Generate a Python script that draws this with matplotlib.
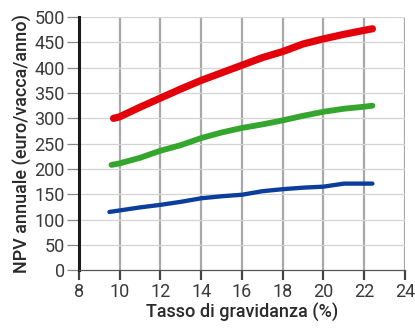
import matplotlib
matplotlib.use("Agg")
import matplotlib.pyplot as plt

plt.rcParams['font.family'] = ['Roboto', 'DejaVu Sans']

# Pregnancy rate (%) and annual NPV (euro/cow/year) for three scenarios
red_x = [9.7, 10.0, 11.0, 12.0, 13.0, 14.0, 15.0, 16.0, 17.0, 18.0, 19.0, 20.0, 21.0, 22.0, 22.4]
red_y = [300, 303, 322, 340, 358, 375, 390, 405, 420, 432, 447, 457, 466, 474, 477]

green_x = [9.6, 10.0, 11.0, 12.0, 13.0, 14.0, 15.0, 16.0, 17.0, 18.0, 19.0, 20.0, 21.0, 22.0, 22.4]
green_y = [208, 211, 222, 236, 247, 261, 272, 281, 288, 296, 305, 313, 319, 323, 325]

blue_x = [9.5, 10.0, 11.0, 12.0, 13.0, 14.0, 15.0, 16.0, 17.0, 18.0, 19.0, 20.0, 21.0, 22.0, 22.4]
blue_y = [115, 118, 124, 129, 135, 142, 146, 149, 156, 160, 163, 165, 171, 171, 171]

x_ticks = [8, 10, 12, 14, 16, 18, 20, 22, 24]
y_ticks = [0, 50, 100, 150, 200, 250, 300, 350, 400, 450, 500]

fig = plt.figure(figsize=(4.15, 3.36), dpi=100)
ax = fig.add_axes([0.190, 0.196, 0.786, 0.753])

ax.set_xlim(8, 24)
ax.set_ylim(0, 500)
ax.set_xticks(x_ticks)
ax.set_yticks(y_ticks)

# grid: strong vertical, light horizontal
for xv in x_ticks[1:]:
    ax.axvline(xv, color='#a8a8a8', lw=1.6, zorder=1)
for yv in y_ticks[1:]:
    ax.axhline(yv, color='#d4d4d4', lw=0.9, zorder=1)

ax.plot(red_x, red_y, color='#e3000b', lw=5.2, solid_capstyle='round', zorder=3)
ax.plot(green_x, green_y, color='#35a62d', lw=4.2, solid_capstyle='round', zorder=3)
ax.plot(blue_x, blue_y, color='#0a3d9c', lw=3.1, solid_capstyle='round', zorder=3)

for side in ['top', 'right']:
    ax.spines[side].set_visible(False)
ax.spines['left'].set_color('#1a1a1a')
ax.spines['left'].set_linewidth(2.2)
ax.spines['bottom'].set_color('#555555')
ax.spines['bottom'].set_linewidth(0.9)

ax.tick_params(axis='x', length=7, width=1.6, color='#444444', labelsize=13,
               labelcolor='#3a3a3a', pad=2)
ax.tick_params(axis='y', length=9, width=0.9, color='#888888', labelsize=13,
               labelcolor='#3a3a3a', pad=1)

ax.set_xlabel('Tasso di gravidanza (%)', fontsize=13, color='#2a2a2a', labelpad=2,
              fontweight='medium')
ax.set_ylabel('NPV annuale (euro/vacca/anno)', fontsize=13, color='#2a2a2a', labelpad=2,
              fontweight='medium')

fig.savefig('out.png', dpi=100, facecolor='white')
